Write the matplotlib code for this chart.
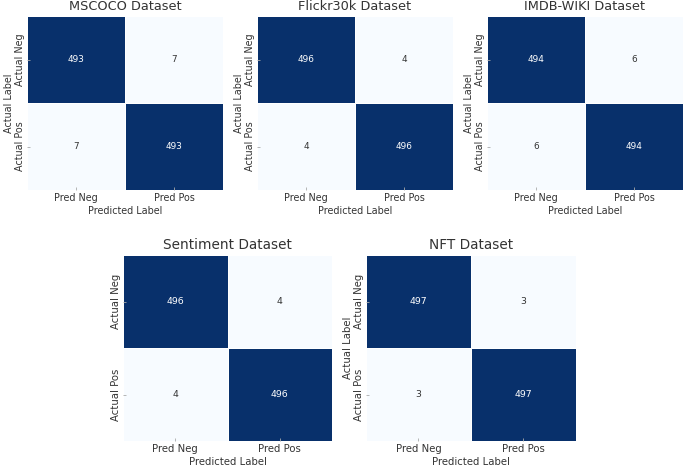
import numpy as np
import matplotlib
matplotlib.use("Agg")
import matplotlib.pyplot as plt
import seaborn as sns

titles = ["MSCOCO Dataset", "Flickr30k Dataset", "IMDB-WIKI Dataset",
          "Sentiment Dataset", "NFT Dataset"]
tn = [493, 496, 494, 496, 497]
fp = [7, 4, 6, 4, 3]
fn = [7, 4, 6, 4, 3]
tp = [493, 496, 494, 496, 497]
x_labels = ["Pred Neg", "Pred Pos"]
y_labels = ["Actual Neg", "Actual Pos"]
show_ylabel = [True, True, True, False, True]

W, H = 685, 468
fig = plt.figure(figsize=(W / 100, H / 100), dpi=100)

def frac(l, t, r, b):
    return [l / W, 1 - b / H, (r - l) / W, (b - t) / H]

positions = [frac(27, 16, 223, 190), frac(257, 16, 453, 190), frac(487, 16, 683, 190),
             frac(123, 255, 332, 441), frac(366, 255, 576, 441)]
scale = [1.0, 1.0, 1.0, 1.06, 1.06]
txt = "#333333"

for i in range(5):
    ax = fig.add_axes(positions[i])
    s = scale[i]
    cm = np.array([[tn[i], fp[i]], [fn[i], tp[i]]])
    sns.heatmap(cm, ax=ax, cmap="Blues", annot=True, fmt="d", cbar=False,
                linewidths=0.6, linecolor="white",
                xticklabels=x_labels, yticklabels=y_labels,
                annot_kws={"fontsize": 6.4 * s})
    for t in ax.texts:
        if t.get_text() in (str(fp[i]), str(fn[i])):
            t.set_color(txt)
    ax.set_title(titles[i], fontsize=9.3 * s, color=txt, pad=4 * s)
    ax.set_xlabel("Predicted Label", fontsize=6.9 * s, color=txt, labelpad=1.5)
    if show_ylabel[i]:
        ax.set_ylabel("Actual Label", fontsize=6.9 * s, color=txt, labelpad=0.5)
    ax.tick_params(axis="both", labelsize=6.9 * s, labelcolor=txt, color="#aaaaaa",
                   length=2, width=0.6, direction="in")
    ax.tick_params(axis="x", pad=2.5)
    ax.tick_params(axis="y", pad=1.5)
    plt.setp(ax.get_yticklabels(), rotation=90, va="center")
    plt.setp(ax.get_xticklabels(), rotation=0)

fig.savefig("out.png", dpi=100)
